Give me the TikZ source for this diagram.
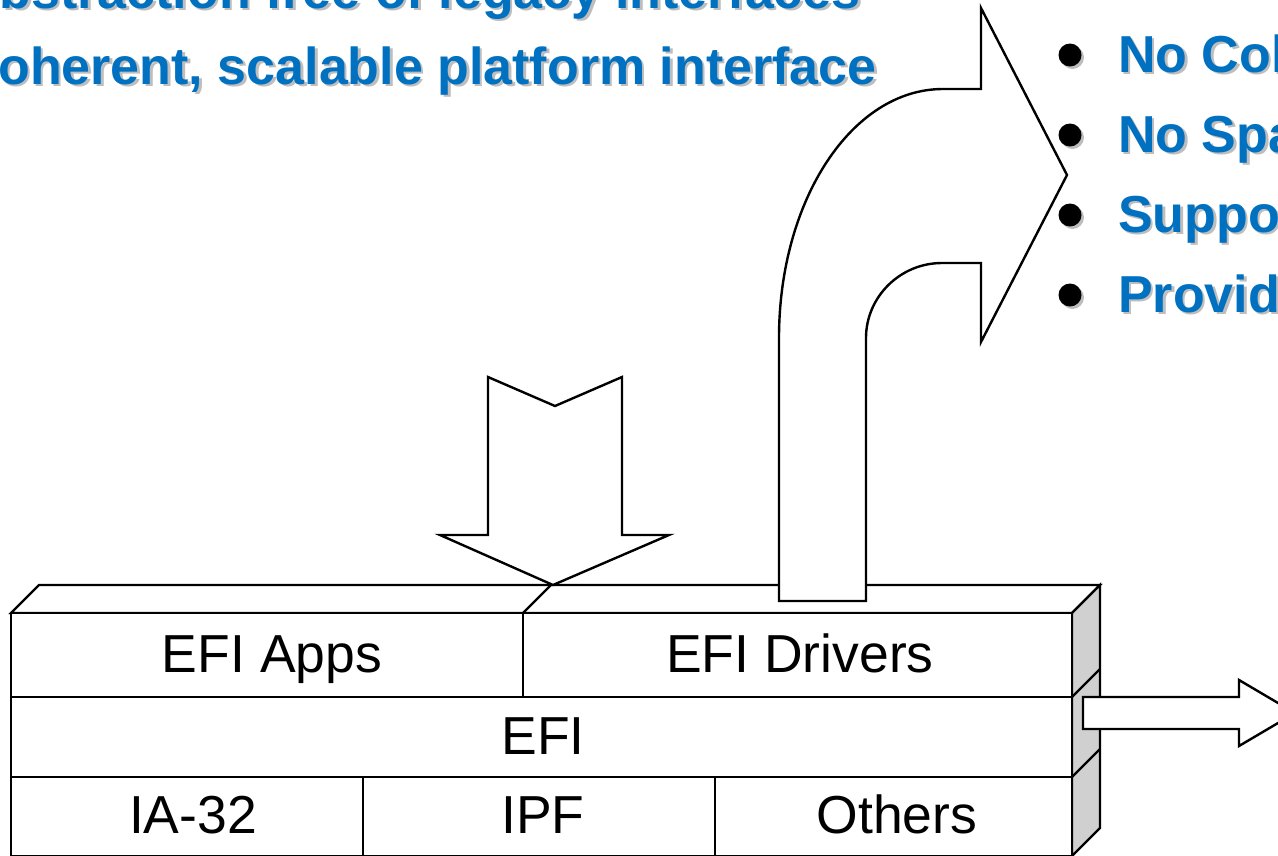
\documentclass[tikz,border=0pt]{standalone}
\usepackage{fontspec}
\setmainfont{Liberation Sans}
\definecolor{titleblue}{RGB}{0,112,192}
\definecolor{shadowgray}{RGB}{190,190,190}
\definecolor{sidegray}{RGB}{208,208,208}
\begin{document}
\begin{tikzpicture}[x=1pt,y=-1pt,line width=2.4pt,line join=miter,
  outline/.style={draw=black,fill=white},
  side/.style={draw=black,fill=sidegray},
  layer/.style={font=\fontsize{53.5}{60}\selectfont,inner sep=0pt,anchor=base},
  headline/.style={font=\fontsize{52}{60}\selectfont\bfseries,text=titleblue,inner sep=0pt},
  headshadow/.style={font=\fontsize{52}{60}\selectfont\bfseries,text=shadowgray,inner sep=0pt},
  bulletdot/.style={circle,fill=black,inner sep=0pt,minimum size=23pt},
  dotshadow/.style={circle,fill=shadowgray,inner sep=0pt,minimum size=23pt}]
\useasboundingbox (0,0) rectangle (1278,855);
\clip (0,0) rectangle (1278,855);

% ---- headline ----
\node[headshadow,anchor=base east] at (864.5,10.5) {Abstraction free of legacy interfaces};
\node[headline,anchor=base east] (h1) at (862,8) {Abstraction free of legacy interfaces};
\node[headshadow,anchor=base east] at (880.5,86.5) {Coherent, scalable platform interface};
\node[headline,anchor=base east] (h2) at (878,84) {Coherent, scalable platform interface};

% ---- bullet list ----
\foreach \y/\t [count=\i] in {55/No Col,135/No Spa,215/Suppo,295/Provid}{
  \node[dotshadow] at (1072.5,\y+2.5) {};
  \node[bulletdot] (dot\i) at (1070,\y) {};
  \node[headshadow,anchor=base west] at (1119.5,\y+19.5) {\t};
  \node[headline,anchor=base west] (item\i) at (1117,\y+17) {\t};
}

% ---- layered block: corners ----
\coordinate (fTL) at (11,613);
\coordinate (fTR) at (1072,613);
\coordinate (bTL) at (39,585);
\coordinate (bTR) at (1100,585);
\coordinate (fBL) at (11,856);
\coordinate (fBR) at (1072,856);
\coordinate (bBR) at (1100,828);

% top face
\draw[outline] (fTL) -- (bTL) -- (bTR) -- (fTR) -- cycle;
\draw (523,613) -- (551,585);
% right face
\draw[side] (fTR) -- (bTR) -- (bBR) -- (fBR) -- cycle;
\draw (1072,697) -- (1100,669);
\draw (1072,777) -- (1100,749);
% front face
\draw[outline] (fTL) -- (fTR) -- (fBR) -- (fBL) -- cycle;
\draw (11,697) -- (1072,697);
\draw (11,777) -- (1072,777);
\draw (523,613) -- (523,697);
\draw (363,777) -- (363,856);
\draw (715,777) -- (715,856);

% layer labels
\node[layer] (apps) at (272,672) {EFI Apps};
\node[layer] (drivers) at (800,672) {EFI Drivers};
\node[layer] (efi) at (543,754) {EFI};
\node[layer] (ia32) at (193,833) {IA-32};
\node[layer] (ipf) at (543,833) {IPF};
\node[layer] (others) at (897,833) {Others};

% ---- block arrows ----
% arrow coming down onto the block
\draw[outline] (488,377) -- (555,406) -- (622,377) -- (622,535) -- (669,535)
  -- (553,585) -- (440,535) -- (488,535) -- cycle;
% bent arrow rising out of the drivers and turning right
\draw[outline] (779,601) -- (779,338)
  .. controls (779,200) and (852,89) .. (943,89)
  -- (981,89) -- (981,8) -- (1067,175) -- (981,342) -- (981,263) -- (942,263)
  .. controls (900,263) and (866,297) .. (866,338)
  -- (866,601) -- cycle;
% arrow leaving the side of the block
\draw[outline] (1083,697) -- (1239,697) -- (1239,680) -- (1295,713)
  -- (1239,746) -- (1239,729) -- (1083,729) -- cycle;
\end{tikzpicture}
\end{document}
